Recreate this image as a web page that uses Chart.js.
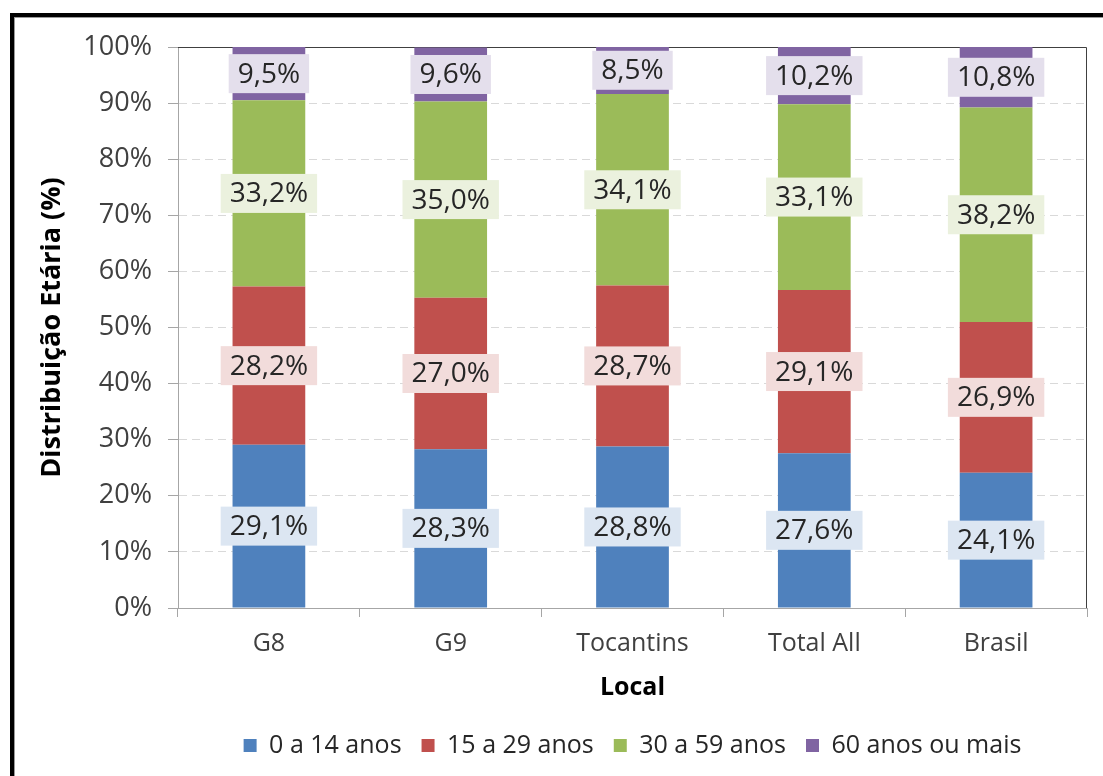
<!DOCTYPE html>
<html>
<head>
<meta charset="utf-8">
<script src="https://cdn.jsdelivr.net/npm/chart.js@4"></script>
<style>
  html, body { margin: 0; padding: 0; background: #fff; }
  #wrap { position: relative; width: 1103px; height: 776px; }
  #frame {
    position: absolute; left: 10px; top: 13px; width: 1200px; height: 800px;
    border-left: 4px solid #000; border-top: 4px solid #000;
    box-shadow: inset 1px 1px 0 #9a9a9a;
    pointer-events: none;
  }
</style>
</head>
<body>
<div id="wrap">
  <canvas id="myChart" width="1103" height="776"></canvas>
  <div id="frame"></div>
</div>
<script>
const categories = ['G8', 'G9', 'Tocantins', 'Total All', 'Brasil'];
const seriesNames = ['0 a 14 anos', '15 a 29 anos', '30 a 59 anos', '60 anos ou mais'];
const age0to14 = [29.1, 28.3, 28.8, 27.6, 24.1];
const age15to29 = [28.2, 27.0, 28.7, 29.1, 26.9];
const age30to59 = [33.2, 35.0, 34.1, 33.1, 38.2];
const age60plus = [9.5, 9.6, 8.5, 10.2, 10.8];
const yTicks = [0, 10, 20, 30, 40, 50, 60, 70, 80, 90, 100];

const barColors = ['#4f81bd', '#c0504d', '#9bbb59', '#8064a2'];
const labelBg = ['#dce6f2', '#f2dcdb', '#ebf1de', '#e4dfec'];
const FONT = "'Open Sans', 'DejaVu Sans', sans-serif";

// draws value boxes in the middle of each segment
const segmentLabels = {
    id: 'segmentLabels',
    afterDatasetsDraw(chart) {
        const ctx = chart.ctx;
        ctx.save();
        ctx.font = '28px ' + FONT;
        ctx.textAlign = 'center';
        ctx.textBaseline = 'middle';
        chart.data.datasets.forEach((ds, i) => {
            const meta = chart.getDatasetMeta(i);
            meta.data.forEach((bar, j) => {
                const txt = ds.data[j].toFixed(1).replace('.', ',') + '%';
                const cy = (bar.y + bar.base) / 2;
                const w = ctx.measureText(txt).width + 18;
                const h = 39;
                ctx.fillStyle = labelBg[i];
                ctx.fillRect(bar.x - w / 2, cy - h / 2, w, h);
                ctx.fillStyle = '#262626';
                ctx.fillText(txt, bar.x, cy + 1);
            });
        });
        ctx.restore();
    }
};

// top and right edge of the plot area
const plotBorder = {
    id: 'plotBorder',
    beforeDatasetsDraw(chart) {
        const a = chart.chartArea;
        const ctx = chart.ctx;
        ctx.save();
        ctx.strokeStyle = '#404040';
        ctx.lineWidth = 1;
        ctx.beginPath();
        ctx.moveTo(a.left, a.top + 0.5);
        ctx.lineTo(a.right - 0.5, a.top + 0.5);
        ctx.lineTo(a.right - 0.5, a.bottom);
        ctx.stroke();
        ctx.restore();
    }
};

const data = {
    labels: categories,
    datasets: [age0to14, age15to29, age30to59, age60plus].map((vals, i) => ({
        label: seriesNames[i],
        data: vals,
        backgroundColor: barColors[i],
        barPercentage: 0.4,
        categoryPercentage: 1
    }))
};

const myChart = new Chart(document.getElementById('myChart'), {
    type: 'bar',
    data: data,
    options: {
        responsive: false,
        animation: false,
        layout: {
            padding: { left: 22, top: 47, right: 16, bottom: 8 }
        },
        plugins: {
            legend: {
                position: 'bottom',
                fullSize: false,
                labels: {
                    color: '#262626',
                    font: { family: FONT, size: 25 },
                    boxWidth: 13,
                    boxHeight: 13,
                    padding: 20
                }
            },
            tooltip: { enabled: false }
        },
        scales: {
            x: {
                stacked: true,
                grid: {
                    drawOnChartArea: false,
                    color: '#a6a6a6',
                    tickLength: 9
                },
                border: { color: '#a6a6a6' },
                ticks: {
                    color: '#404040',
                    font: { family: FONT, size: 25 },
                    padding: 12
                },
                title: {
                    display: true,
                    text: 'Local',
                    color: '#000',
                    font: { family: FONT, size: 25, weight: 'bold' },
                    padding: { top: 0, bottom: 10 }
                },
                afterFit(scale) { scale.height = 105; }
            },
            y: {
                stacked: true,
                min: 0,
                max: 100,
                afterBuildTicks(scale) {
                    scale.ticks = yTicks.map(v => ({ value: v }));
                },
                grid: {
                    color: '#d9d9d9',
                    tickColor: '#a6a6a6',
                    tickLength: 10,
                    tickBorderDash: [0, 0]
                },
                border: { color: '#a6a6a6', dash: [8, 5] },
                ticks: {
                    color: '#404040',
                    font: { family: FONT, size: 27 },
                    padding: 16,
                    callback: v => v + '%'
                },
                title: {
                    display: true,
                    text: 'Distribuição Etária (%)',
                    color: '#000',
                    font: { family: FONT, size: 27, weight: 'bold' },
                    padding: { top: 14, bottom: 0 }
                },
                afterFit(scale) { scale.width = 178 - 22; }
            }
        }
    },
    plugins: [plotBorder, segmentLabels]
});
</script>
</body>
</html>
